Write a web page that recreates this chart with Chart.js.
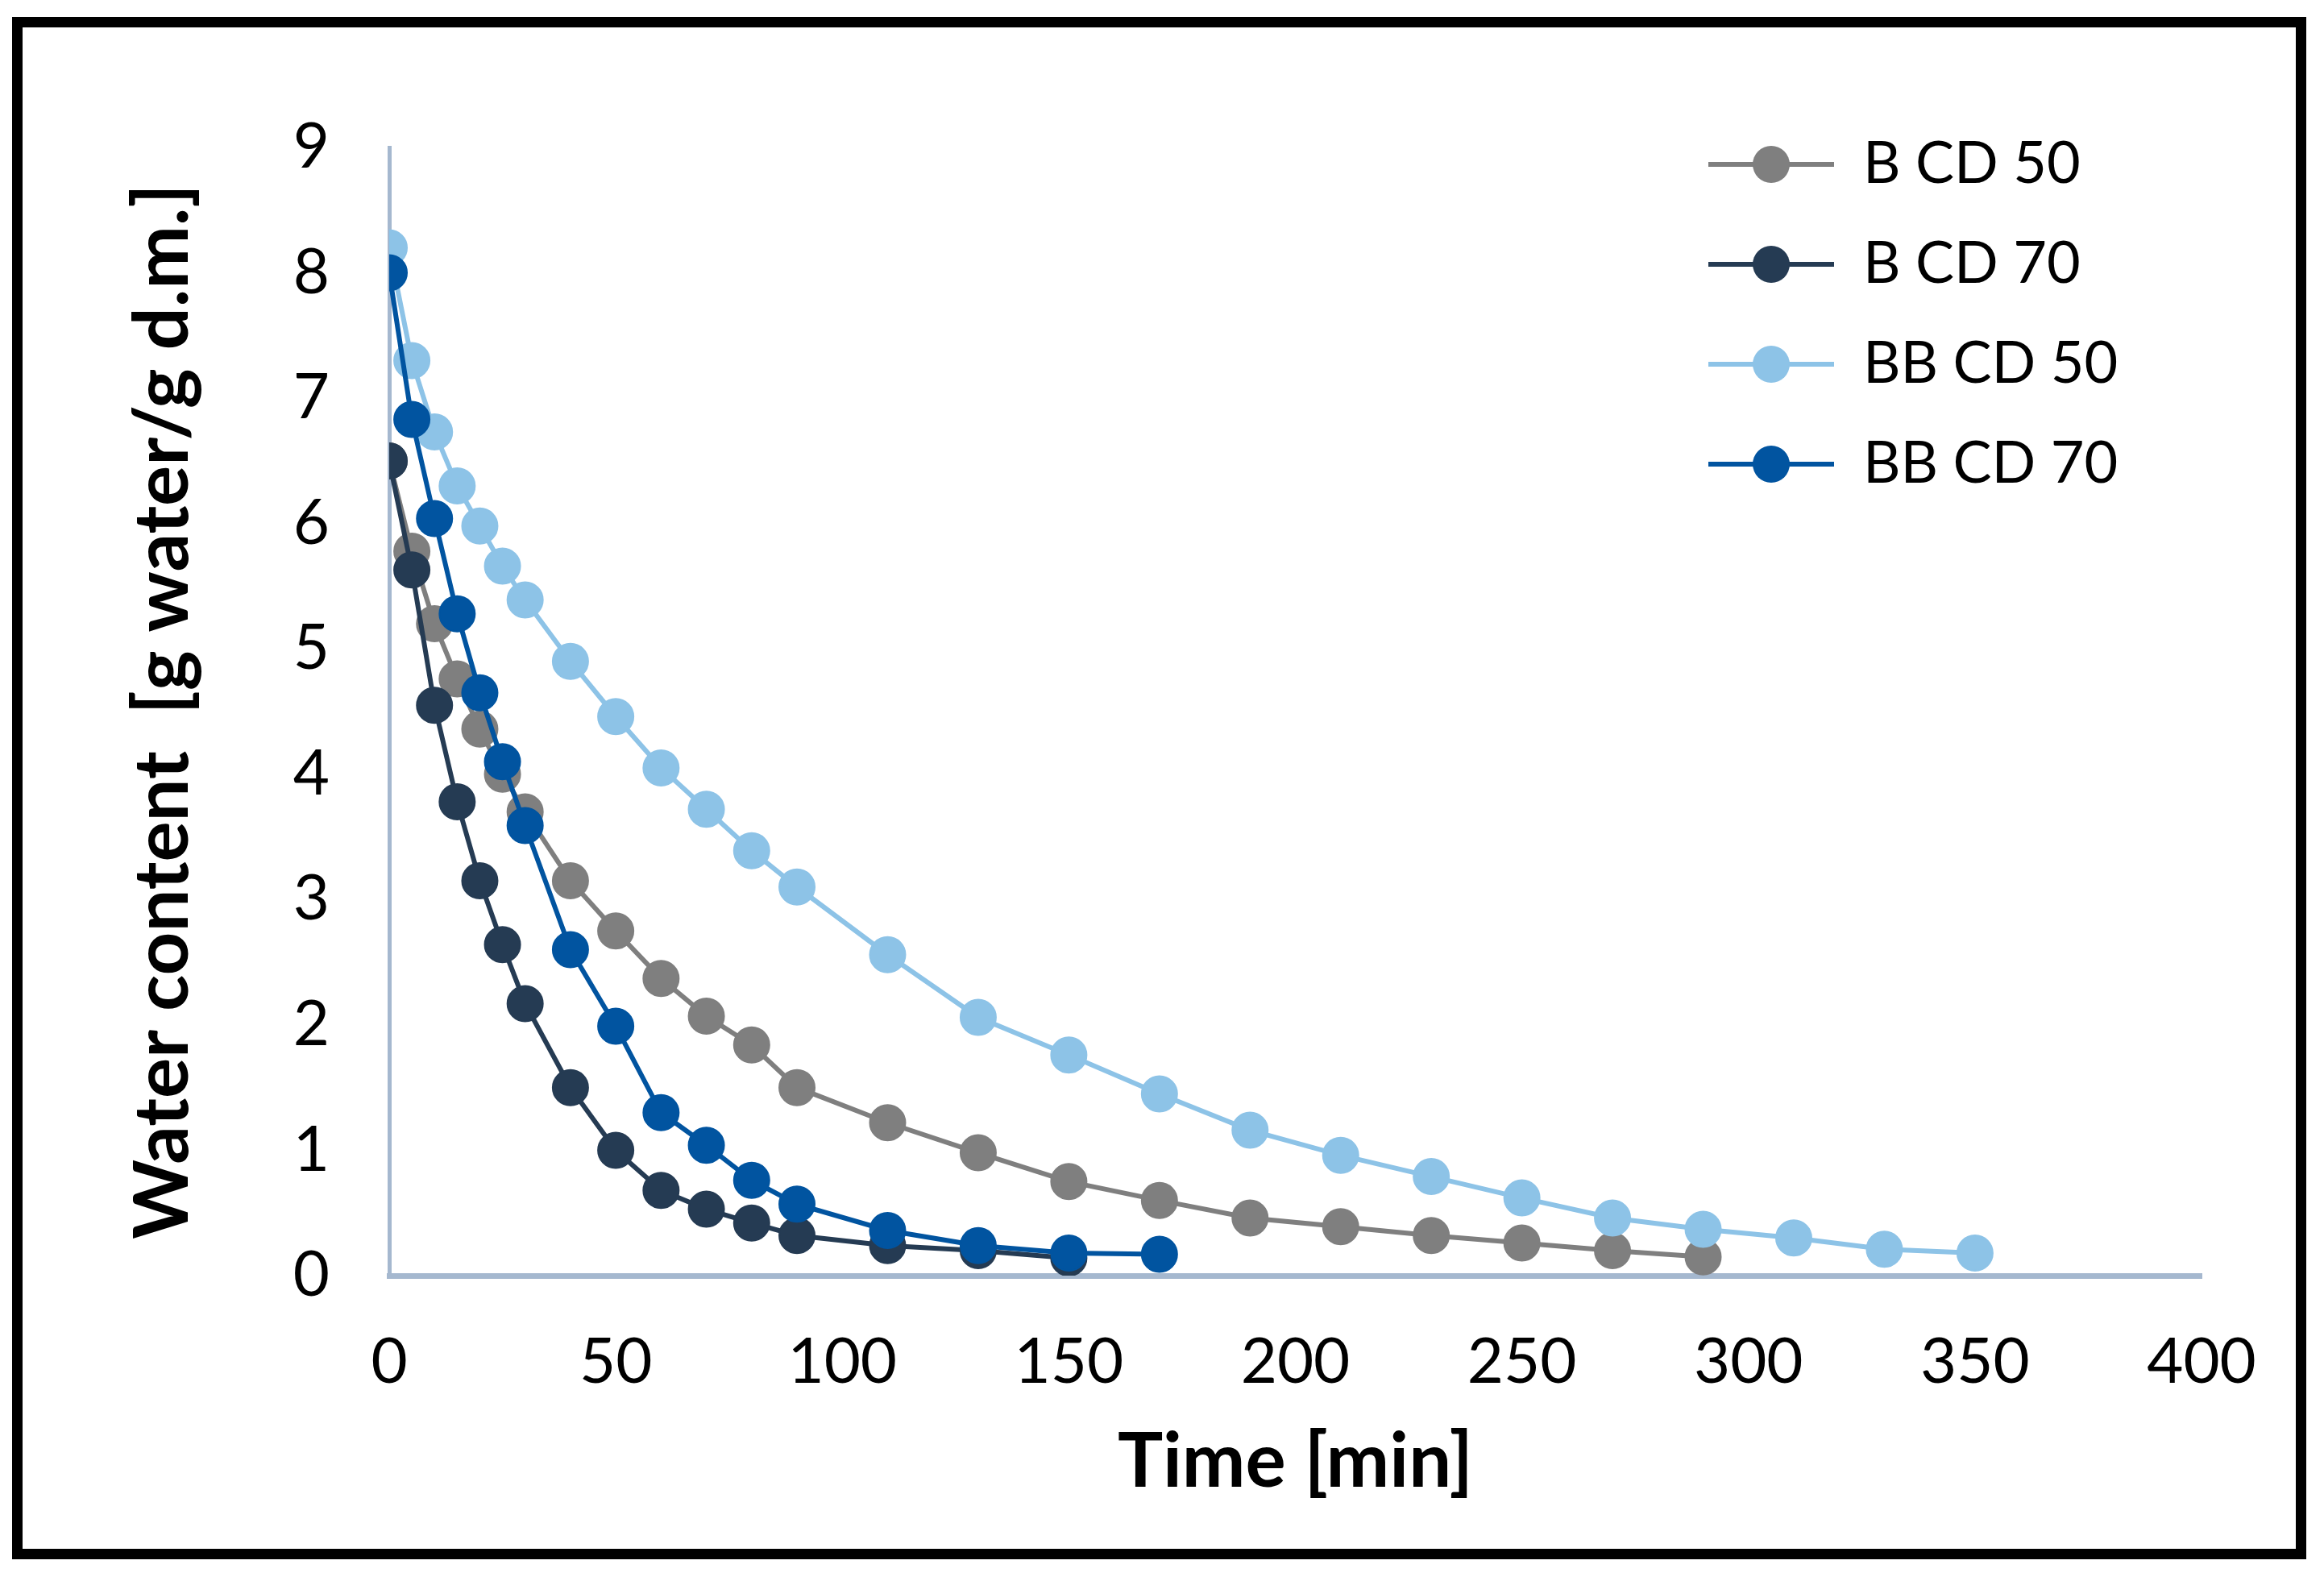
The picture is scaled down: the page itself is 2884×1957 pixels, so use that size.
<!DOCTYPE html>
<html>
<head>
<meta charset="utf-8">
<title>Water content during drying</title>
<script src="https://cdn.jsdelivr.net/npm/chart.js@4.4.1/dist/chart.umd.min.js"></script>
<style>
    html, body { margin: 0; padding: 0; background: #fff; }
    body { width: 2884px; height: 1957px; position: relative; overflow: hidden; }
    #dryingChart { position: absolute; left: 0; top: 0; }
    #frame {
        position: absolute; left: 15px; top: 21px;
        width: 2847px; height: 1914px;
        border: 13px solid #000; box-sizing: border-box;
        pointer-events: none;
    }
</style>
</head>
<body>
<canvas id="dryingChart" width="2884" height="1957"></canvas>
<div id="frame"></div>
<script>
// Data
const sampleTimes = [0, 5, 10, 15, 20, 25, 30, 40, 50, 60, 70, 80, 90,
                     110, 130, 150, 170, 190, 210, 230, 250, 270, 290, 310, 330, 350];

const seriesNames = ['B CD 50', 'B CD 70', 'BB CD 50', 'BB CD 70'];

const bCd50 = [6.5, 5.78, 5.2, 4.76, 4.36, 4.0, 3.7, 3.15, 2.75, 2.37, 2.07, 1.84, 1.5,
               1.22, 0.98, 0.75, 0.6, 0.46, 0.39, 0.32, 0.26, 0.2, 0.15];
const bCd70 = [6.5, 5.63, 4.55, 3.78, 3.15, 2.64, 2.17, 1.5, 1.0, 0.68, 0.53, 0.42, 0.32,
               0.24, 0.2, 0.14];
const bbCd50 = [8.2, 7.3, 6.73, 6.3, 5.98, 5.66, 5.39, 4.9, 4.46, 4.05, 3.72, 3.39, 3.1,
                2.56, 2.06, 1.76, 1.45, 1.16, 0.96, 0.79, 0.62, 0.46, 0.37, 0.3, 0.21, 0.18];
const bbCd70 = [8.0, 6.83, 6.04, 5.28, 4.65, 4.1, 3.59, 2.6, 1.99, 1.3, 1.04, 0.76, 0.57,
                0.36, 0.24, 0.18, 0.17];

const xTickValues = [0, 50, 100, 150, 200, 250, 300, 350, 400];
const yTickValues = [0, 1, 2, 3, 4, 5, 6, 7, 8, 9];

const xTitle = 'Time [min]';
const yTitle = 'Water content  [g water/g d.m.]';

// Styling
const seriesColors = ['#7f7f7f', '#253b53', '#8dc3e7', '#0154a0'];
const axisColor = '#a5b8cf';
const FONT = 'Lato';

// Legend placement (inside the plot, top right)
const LEGEND_X = 2120;
const LEGEND_Y = 168;
const LEGEND_PAD = 52;

let chart = null;

document.addEventListener('DOMContentLoaded', function() {
    initializeChart();
});

// Pair the sampling times with the values of one series
function toPoints(values) {
    return values.map((v, i) => ({ x: sampleTimes[i], y: v }));
}

// Line + marker swatch used by the legend
function makeLegendIcon(color) {
    const icon = document.createElement('canvas');
    icon.width = 156;
    icon.height = 50;
    const g = icon.getContext('2d');
    g.strokeStyle = color;
    g.lineWidth = 6;
    g.beginPath();
    g.moveTo(0, 25);
    g.lineTo(156, 25);
    g.stroke();
    g.fillStyle = color;
    g.beginPath();
    g.arc(78, 25, 23, 0, Math.PI * 2);
    g.fill();
    return icon;
}

// Move the chartArea legend to the top right corner
const legendPlacer = {
    id: 'legendPlacer',
    afterLayout(c) {
        c.legend.left = LEGEND_X - LEGEND_PAD;
        c.legend.top = LEGEND_Y - LEGEND_PAD;
    }
};

function initializeChart() {
    const ctx = document.getElementById('dryingChart').getContext('2d');
    const seriesValues = [bCd50, bCd70, bbCd50, bbCd70];
    const legendIcons = seriesColors.map(makeLegendIcon);

    const datasets = seriesNames.map((name, i) => ({
        label: name,
        data: toPoints(seriesValues[i]),
        borderColor: seriesColors[i],
        backgroundColor: seriesColors[i],
        pointBackgroundColor: seriesColors[i],
        pointBorderColor: seriesColors[i],
        borderWidth: 6,
        pointRadius: 22,
        pointBorderWidth: 2,
        tension: 0,
        fill: false,
        order: seriesNames.length - 1 - i   // later series drawn on top
    }));

    chart = new Chart(ctx, {
        type: 'line',
        data: { datasets: datasets },
        plugins: [legendPlacer],
        options: {
            responsive: false,
            animation: false,
            devicePixelRatio: 1,
            layout: { padding: { left: 0, top: 183, right: 152, bottom: 0 } },
            plugins: {
                tooltip: { enabled: false },
                legend: {
                    display: true,
                    position: 'chartArea',
                    align: 'start',
                    labels: {
                        usePointStyle: true,
                        pointStyleWidth: 156,
                        padding: LEGEND_PAD,
                        color: '#000',
                        font: { family: FONT, size: 72 },
                        generateLabels: c => c.data.datasets.map((ds, i) => ({
                            text: ds.label,
                            pointStyle: legendIcons[i],
                            fillStyle: ds.borderColor,
                            strokeStyle: ds.borderColor,
                            lineWidth: 0,
                            fontColor: '#000',
                            hidden: false,
                            datasetIndex: i
                        }))
                    }
                }
            },
            scales: {
                x: {
                    type: 'linear',
                    min: 0,
                    max: 400,
                    grid: { display: false, drawTicks: false },
                    border: { display: true, color: axisColor, width: 7 },
                    afterBuildTicks: s => { s.ticks = xTickValues.map(v => ({ value: v })); },
                    ticks: {
                        padding: 61,
                        color: '#000',
                        font: { family: FONT, size: 78 },
                        maxRotation: 0
                    },
                    title: {
                        display: true,
                        text: xTitle,
                        color: '#000',
                        font: { family: FONT, size: 94, weight: 'bold' },
                        padding: { top: 0, bottom: 86 }
                    },
                    afterFit: s => { s.height = 374; }
                },
                y: {
                    type: 'linear',
                    min: 0,
                    max: 9,
                    grid: { display: false, drawTicks: false },
                    border: { display: true, color: axisColor, width: 5 },
                    afterBuildTicks: s => { s.ticks = yTickValues.map(v => ({ value: v })); },
                    ticks: {
                        padding: 74,
                        color: '#000',
                        font: { family: FONT, size: 78 }
                    },
                    title: {
                        display: true,
                        text: yTitle,
                        color: '#000',
                        font: { family: FONT, size: 94, weight: 'bold' },
                        padding: { top: 146, bottom: 0 }
                    },
                    afterFit: s => { s.width = 483; }
                }
            }
        }
    });
}
</script>
</body>
</html>
